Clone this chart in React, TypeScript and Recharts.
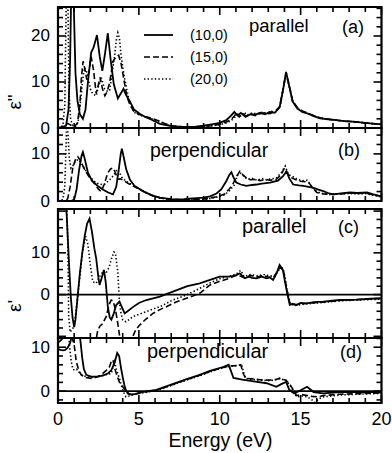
import React from 'react';
import { LineChart, Line, XAxis, YAxis, ReferenceArea, ReferenceLine } from 'recharts';

type Pt = [number, number];

// ---------- labels ----------
const seriesNames = ['(10,0)', '(15,0)', '(20,0)'];
const panelLetters = ['(a)', '(b)', '(c)', '(d)'];
const panelTitles = ['parallel', 'perpendicular', 'parallel', 'perpendicular'];
const energyTicks = [0, 1, 2, 3, 4, 5, 6, 7, 8, 9, 10, 11, 12, 13, 14, 15, 16, 17, 18, 19, 20];

// ---------- (a) eps'' parallel ----------
const a10: Pt[] = [[0,0],[0.3,0.2],[0.5,0.5],[0.65,4],[0.75,15],[0.82,30],[0.9,45],[0.98,26],[1.08,12],[1.2,6],[1.35,3],[1.54,2],[1.7,4],[1.85,10],[2.05,16.4],[2.2,17.5],[2.41,20.2],[2.58,15.5],[2.74,12.4],[2.9,16],[3.08,20.6],[3.25,15],[3.45,9.5],[3.7,6.4],[3.9,7.6],[4.05,8.5],[4.2,7.2],[4.43,5.9],[4.7,4],[5.05,3.1],[5.4,2.4],[5.67,2],[6.0,1.4],[6.3,0.9],[7,0.4],[7.5,0.3],[8,0.2],[8.5,0.3],[9,0.5],[9.5,0.8],[10,1.1],[10.4,1.7],[10.7,2.7],[10.9,3.5],[11.1,2.7],[11.3,3.3],[11.6,2.4],[11.9,3.0],[12.2,2.9],[12.5,3.3],[12.8,3.0],[13.1,3.5],[13.4,3.3],[13.7,4.5],[13.9,8],[14.1,12.2],[14.3,9],[14.5,5.8],[14.8,4.2],[15.1,3.5],[15.4,3.2],[15.8,2.6],[16.2,2.1],[16.7,1.9],[17.2,1.7],[17.7,1.5],[18.2,1.4],[18.7,1.2],[19.3,1.0],[20,0.8]];
const a15: Pt[] = [[0,0],[0.3,0.3],[0.6,1],[0.8,0.6],[1.0,0.3],[1.2,1],[1.35,5],[1.45,11],[1.55,14.5],[1.65,13],[1.78,10.5],[1.9,12],[2.05,15.5],[2.2,12.5],[2.36,7.5],[2.5,9.5],[2.6,11],[2.75,8.5],[2.9,7],[3.05,8],[3.2,10],[3.4,14.5],[3.6,15.5],[3.75,15.8],[3.9,14],[4.05,11],[4.25,7],[4.45,5],[4.7,3.6],[5.0,3.0],[5.4,2.5],[5.8,2.1],[6.2,1.6],[6.6,1.0],[7,0.5],[7.5,0.3],[8,0.2],[8.5,0.2],[9,0.3],[9.5,0.5],[10,0.8],[10.4,1.3],[10.7,1.8],[10.9,2.6],[11.05,3.3],[11.2,2.4],[11.4,3.2],[11.6,2.6],[11.9,3.0],[12.2,2.7],[12.5,3.1],[12.8,3.3],[13.1,3.1],[13.4,3.6],[13.7,4.6],[13.9,8.2],[14.1,12.0],[14.3,9.2],[14.5,6],[14.8,4.4],[15.1,3.7],[15.4,3.3],[15.8,2.7],[16.2,2.2],[16.7,1.9],[17.2,1.7],[17.7,1.5],[18.2,1.4],[18.7,1.2],[19.3,1.0],[20,0.8]];
const a20: Pt[] = [[0,0],[0.3,0.5],[0.42,5],[0.5,25],[0.55,45],[0.62,25],[0.68,8],[0.78,2],[0.9,0.5],[1.1,0.3],[1.25,1.5],[1.4,6],[1.55,11],[1.64,13.1],[1.75,12.5],[1.85,11],[2.0,8.5],[2.15,7.4],[2.36,7],[2.5,9],[2.67,11],[2.8,9.5],[2.88,8.5],[3.05,8],[3.19,8.1],[3.35,12],[3.5,15.7],[3.62,19.5],[3.7,20.7],[3.8,19.5],[3.9,15.8],[4.1,11],[4.4,5.9],[4.7,3.4],[5.0,2.9],[5.4,2.4],[5.8,2.0],[6.2,1.5],[6.6,0.9],[7,0.4],[7.5,0.2],[8,0.2],[8.5,0.2],[9,0.3],[9.5,0.5],[10,0.7],[10.4,1.1],[10.7,1.6],[10.9,2.2],[11.1,3.0],[11.3,2.6],[11.5,3.4],[11.7,2.8],[12.0,3.3],[12.3,3.0],[12.6,3.4],[12.9,3.2],[13.2,3.6],[13.5,3.5],[13.75,5],[13.95,9],[14.1,11.8],[14.3,8.8],[14.5,5.9],[14.8,4.3],[15.1,3.6],[15.4,3.2],[15.8,2.7],[16.2,2.2],[16.7,1.9],[17.2,1.7],[17.7,1.5],[18.2,1.4],[18.7,1.2],[19.3,1.0],[20,0.8]];

// ---------- (b) eps'' perpendicular ----------
const b10: Pt[] = [[0,0],[0.8,0],[1.0,0.3],[1.15,2.5],[1.3,6.5],[1.45,9.5],[1.54,10.4],[1.65,9],[1.85,6],[2.1,4.3],[2.46,3.2],[2.8,2.4],[3.1,1.8],[3.4,1.4],[3.6,3],[3.75,6.5],[3.88,10],[3.95,11.1],[4.05,9.5],[4.22,6.7],[4.45,4.5],[4.74,3.2],[5.25,2.1],[5.8,1.2],[6.3,0.7],[7,0.4],[7.6,0.3],[8.1,0.5],[8.6,0.6],[9,0.7],[9.4,1],[9.8,1.6],[10.1,2.5],[10.4,4.2],[10.6,5.6],[10.72,6.1],[10.85,5],[11.03,3.9],[11.3,3.5],[11.65,3.2],[12,3.4],[12.27,3.5],[12.6,3.7],[13.1,3.9],[13.6,4.3],[13.9,5.2],[14.13,6.3],[14.3,4.8],[14.54,3.5],[14.9,3.3],[15.16,3.2],[15.5,3],[15.8,2.8],[16.1,2.4],[16.4,2.1],[16.7,1.7],[17,1.4],[17.5,1.6],[18.05,1.8],[18.5,1.7],[19.1,1.8],[19.5,1.4],[20,1]];
const b15: Pt[] = [[0,0],[0.45,0],[0.6,0.5],[0.75,3],[0.92,7.2],[1.08,8.8],[1.23,9.4],[1.4,8.5],[1.6,7],[1.85,5.5],[2.1,4.3],[2.3,3.5],[2.5,2.5],[2.67,2],[2.85,3.5],[3.08,6],[3.25,6.8],[3.4,7],[3.55,6],[3.7,4.6],[3.85,4.7],[4.0,4.5],[4.3,3.8],[4.74,3],[5.25,2.1],[5.8,1.2],[6.3,0.7],[7,0.3],[8,0.3],[8.6,0.3],[9.2,0.5],[9.8,0.9],[10.3,1.5],[10.6,2.6],[10.8,3.5],[11.0,5],[11.24,6.3],[11.45,5.5],[11.65,4.9],[11.9,4.5],[12.2,4.6],[12.5,4.3],[12.8,4.6],[13.1,4.4],[13.5,4.6],[13.8,5.6],[14.0,7],[14.2,5.8],[14.4,5],[14.7,4.5],[15.0,4.2],[15.3,4.1],[15.5,3.9],[15.7,3],[16.0,1.8],[16.4,1.5],[17,1.4],[17.5,1.5],[18,1.7],[18.5,1.6],[19,1.7],[19.5,1.3],[20,1.0]];
const b20: Pt[] = [[0,0],[0.3,0.3],[0.42,3],[0.5,12],[0.56,20],[0.62,14],[0.7,9],[0.8,7],[0.92,7.5],[1.08,8.5],[1.25,8.8],[1.45,8],[1.7,6.5],[2.0,5],[2.3,4],[2.6,3.5],[2.9,3.6],[3.2,4.5],[3.45,5.5],[3.65,6.7],[3.8,6],[3.95,5],[4.2,4.2],[4.5,3.6],[4.9,2.8],[5.3,2],[5.8,1.2],[6.3,0.6],[7,0.3],[8,0.3],[8.6,0.3],[9.2,0.4],[9.8,0.8],[10.3,1.3],[10.6,2.2],[10.9,3.4],[11.1,5.5],[11.3,5.9],[11.5,5.2],[11.7,4.6],[12.0,4.8],[12.3,4.4],[12.6,4.8],[12.9,4.5],[13.2,4.7],[13.5,4.9],[13.8,6],[14.05,7.4],[14.25,5.6],[14.5,5.2],[14.8,4.6],[15.1,4.3],[15.4,4.4],[15.6,3.5],[15.9,2.2],[16.3,1.6],[16.8,1.4],[17.4,1.5],[18,1.6],[18.5,1.5],[19,1.6],[19.5,1.2],[20,0.9]];

// ---------- (c) eps' parallel ----------
const c10: Pt[] = [[0,24],[0.3,26],[0.5,22],[0.6,14],[0.7,6],[0.8,-1],[0.9,-5.5],[1.0,-7.8],[1.08,-6],[1.2,-1],[1.35,5],[1.5,10],[1.65,14],[1.8,17],[1.95,18.2],[2.1,15],[2.25,11],[2.36,8.7],[2.5,4],[2.57,2.3],[2.7,4],[2.84,5.9],[2.95,3],[3.08,-2.9],[3.2,-5.5],[3.3,-6],[3.45,-4.5],[3.6,-2.5],[3.8,-1.7],[3.95,-3],[4.12,-4.5],[4.3,-4],[4.63,-3],[5.0,-2],[5.46,-1.3],[6.3,-0.5],[7.1,0.7],[8,2],[8.76,2.7],[9.4,3.5],[10,4.3],[10.6,4.3],[11,4.6],[11.24,5.1],[11.55,3.9],[11.8,4.3],[12.0,4],[12.27,3.9],[12.6,4.3],[12.9,3.9],[13.1,4.1],[13.3,3.5],[13.5,5],[13.7,7.1],[13.9,5.9],[14.13,1.1],[14.33,-2.5],[14.5,-2.2],[14.75,-2.5],[15.0,-2.0],[15.4,-2.1],[15.8,-1.8],[16.4,-1.7],[17.4,-1.3],[18.5,-1.2],[19.3,-1.0],[20,-0.9]];
const c15: Pt[] = [[0,-12],[2.3,-12],[2.46,-8.5],[2.6,-7.5],[2.75,-7],[2.98,-5.3],[3.15,-2.5],[3.29,-1.3],[3.4,-1.5],[3.55,-3.5],[3.7,-7],[3.85,-11],[4.55,-11],[4.63,-10],[4.8,-8.5],[5.05,-7.3],[5.4,-6],[5.87,-4.5],[6.3,-3.6],[6.7,-2.9],[7.3,-1.8],[7.94,-0.9],[8.76,0.3],[9.4,2.3],[10,3.2],[10.6,3.9],[11,4.6],[11.3,4.4],[11.55,4],[11.9,4.6],[12.3,4.2],[12.7,4.6],[13.0,4.2],[13.3,4.1],[13.5,5.2],[13.75,6.6],[13.95,5.5],[14.15,1],[14.35,-2.3],[14.7,-2.4],[15.2,-2.2],[15.7,-2.0],[16.4,-1.8],[17.4,-1.4],[18.5,-1.2],[19.3,-1.0],[20,-0.9]];
const c20: Pt[] = [[0,22],[0.4,28],[0.5,30],[0.55,20],[0.6,13],[0.63,5],[0.66,-5],[0.75,-9],[1.0,-7.6],[1.2,-1.2],[1.5,9.8],[1.7,14],[1.85,12],[2.0,7],[2.15,3.1],[2.36,2.7],[2.57,4.3],[2.78,5.5],[2.95,5],[3.15,6.5],[3.3,8.5],[3.46,10.2],[3.55,9.9],[3.7,5.3],[3.8,-2],[3.9,-4.5],[4.0,-6.1],[4.2,-6.5],[4.4,-6],[4.63,-5.3],[5.0,-4.7],[5.46,-4.1],[6.3,-2.9],[7.1,-1.3],[7.94,-0.1],[8.76,1.5],[9.4,2.8],[10,3.8],[10.6,4.4],[11,4.9],[11.3,5.8],[11.5,4.3],[11.9,4.8],[12.3,4.5],[12.7,4.8],[13.1,4.5],[13.4,4.3],[13.6,5.5],[13.8,6.8],[13.95,5.8],[14.15,1.5],[14.35,-2.3],[14.7,-2.6],[15.2,-2.3],[15.7,-2.1],[16.4,-1.9],[17.4,-1.5],[18.5,-1.3],[20,-1.1]];

// ---------- (d) eps' perpendicular ----------
const d10: Pt[] = [[0,9.6],[0.15,9.4],[0.3,9.3],[0.45,9.4],[0.6,9.9],[0.75,11],[0.85,12.5],[0.9,13.5],[1.1,15],[1.3,14],[1.4,11],[1.5,7.5],[1.6,5],[1.75,3.7],[2.05,3.3],[2.46,3.3],[2.8,3.6],[3.08,4.0],[3.3,4.8],[3.5,6.5],[3.66,8.7],[3.78,8],[3.9,5.2],[4.0,3.2],[4.1,1.4],[4.2,0.2],[4.32,-0.6],[4.53,-0.8],[4.8,-0.6],[5.15,-0.2],[6.08,0.3],[7,1.5],[8,2.8],[8.76,3.7],[9.4,4.6],[10.2,5.5],[10.55,6.0],[10.7,4.5],[10.85,3],[11.4,2.6],[11.6,2.5],[12.3,2.1],[12.9,1.8],[13.5,1.0],[13.8,1.6],[14.1,2.1],[14.3,0.3],[14.6,-0.5],[15.0,0.2],[15.4,1],[15.8,-0.2],[16.4,-0.5],[17.4,-0.2],[18.5,-0.2],[20,-0.2]];
const d15: Pt[] = [[0,11],[0.3,12],[0.6,13],[0.85,12.5],[1.0,10.5],[1.13,6.7],[1.3,4.6],[1.44,3.7],[1.7,3.1],[2.05,2.9],[2.4,3.2],[2.67,3.7],[2.95,4.6],[3.19,5.6],[3.3,6.8],[3.4,7.1],[3.5,5.2],[3.65,3.5],[3.8,2],[4.0,1],[4.2,0],[4.4,-0.6],[4.6,-0.8],[4.9,-0.6],[5.2,-0.3],[6.08,0.2],[7,1.4],[8,2.7],[8.76,3.6],[9.4,4.5],[10.2,5.4],[10.6,5.7],[11.0,5.8],[11.3,6.0],[11.45,4],[11.6,2.9],[12.0,2.8],[12.5,2.6],[13.0,2.5],[13.4,2.6],[13.7,2.9],[14.1,2.5],[14.4,1.2],[14.75,-1.0],[15.1,-0.8],[15.4,-1.0],[15.7,-1.2],[16.1,-1.3],[16.4,-1.0],[17.4,-0.7],[18.5,-0.6],[20,-0.4]];
const d20: Pt[] = [[0,13],[0.4,14],[0.65,13.5],[0.72,10],[0.82,6.7],[0.92,5],[1.02,4.8],[1.15,5],[1.3,4.3],[1.5,3.6],[1.8,3.2],[2.2,3.1],[2.6,3.4],[3.0,3.8],[3.29,4.0],[3.4,5.5],[3.5,6.7],[3.6,5],[3.8,2.9],[4.0,0.2],[4.2,-1.3],[4.4,-1.1],[4.7,-0.7],[5.2,-0.4],[6.08,0.1],[7,1.3],[8,2.6],[8.76,3.5],[9.4,4.4],[10.2,5.3],[10.6,5.6],[11.0,5.8],[11.35,6.0],[11.5,4],[11.6,2.9],[12.0,2.7],[12.5,2.5],[13.0,2.4],[13.4,2.5],[13.7,2.9],[14.1,2.4],[14.4,1.0],[14.75,-1.3],[15.1,-1.1],[15.4,-1.3],[15.7,-2],[15.9,-2.6],[16.1,-1.8],[16.4,-1.3],[17.4,-0.9],[18.5,-0.7],[20,-0.5]];

// ---------- layout ----------
const W = 392;
const H = 453;
const PL = 58;
const PR = 381.5;
const FONT = '"Liberation Sans", Arial, Helvetica, sans-serif';

const dashes = ['0', '6 3', '1.4 2.2'];

type PanelCfg = {
  top: number; bottom: number; domain: [number, number];
  yTicks: number[]; yLabels: number[]; zero: boolean; xLabels: boolean;
  series: Pt[][];
};

const panels: PanelCfg[] = [
  { top: 7, bottom: 128, domain: [0, 26.3], yTicks: [0,2,4,6,8,10,12,14,16,18,20,22,24,26], yLabels: [0,10,20], zero: false, xLabels: false, series: [a10, a15, a20] },
  { top: 128, bottom: 201, domain: [0, 15.5], yTicks: [0,2,4,6,8,10,12,14], yLabels: [0,10], zero: false, xLabels: false, series: [b10, b15, b20] },
  { top: 209, bottom: 338, domain: [-10.4, 20.5], yTicks: [-10,-8,-6,-4,-2,0,2,4,6,8,10,12,14,16,18,20], yLabels: [0,10], zero: true, xLabels: false, series: [c10, c15, c20] },
  { top: 338, bottom: 403, domain: [-2.7, 12.1], yTicks: [-2,0,2,4,6,8,10,12], yLabels: [0,10], zero: true, xLabels: true, series: [d10, d15, d20] },
];

function Panel({ cfg }: { cfg: PanelCfg }) {
  const { top, bottom, domain, yTicks, yLabels, zero, xLabels, series } = cfg;
  const renderXTick = (props: any) => {
    const x = props.x;
    const v = props.payload.value;
    const major = v % 5 === 0;
    const len = major ? 8 : 5;
    return (
      <g key={'xt' + v}>
        <line x1={x} x2={x} y1={bottom} y2={bottom - len} stroke="#000" strokeWidth={1.6} />
        <line x1={x} x2={x} y1={top} y2={top + len} stroke="#000" strokeWidth={1.6} />
        {xLabels && major ? (
          <text x={x} y={419} textAnchor="middle" dominantBaseline="central" fontSize={18} fontFamily={FONT} fill="#000">{v}</text>
        ) : null}
      </g>
    );
  };
  const renderYTick = (props: any) => {
    const y = props.y;
    const v = props.payload.value;
    const major = v % 10 === 0;
    const len = major ? 8 : 5;
    return (
      <g key={'yt' + v}>
        <line x1={PL} x2={PL + len} y1={y} y2={y} stroke="#000" strokeWidth={1.6} />
        <line x1={PR} x2={PR - len} y1={y} y2={y} stroke="#000" strokeWidth={1.6} />
        {yLabels.includes(v) ? (
          <text x={50} y={y} textAnchor="end" dominantBaseline="central" fontSize={17} fontFamily={FONT} fill="#000">{v}</text>
        ) : null}
      </g>
    );
  };
  return (
    <div style={{ position: 'absolute', left: 0, top: 0 }}>
      <LineChart width={W} height={H} margin={{ top, bottom: H - bottom - 1, left: PL - 1, right: W - PR }}>
        <XAxis xAxisId="x" type="number" dataKey="x" domain={[0, 20]} ticks={energyTicks} interval={0} height={1}
          axisLine={false} tickLine={false} tick={renderXTick} allowDataOverflow />
        <YAxis yAxisId="y" type="number" domain={domain} ticks={yTicks} interval={0} width={1}
          axisLine={false} tickLine={false} tick={renderYTick} allowDataOverflow />
        {zero ? <ReferenceLine xAxisId="x" yAxisId="y" y={0} stroke="#000" strokeWidth={1.6} /> : null}
        {series.map((pts, i) => (
          <Line key={seriesNames[i]} xAxisId="x" yAxisId="y" name={seriesNames[i]}
            data={pts.map(([x, y]) => ({ x, y }))} dataKey="y" type="linear"
            stroke="#000" strokeWidth={i === 0 ? 1.8 : 1.6} strokeDasharray={dashes[i]}
            dot={false} activeDot={false} isAnimationActive={false} />
        ))}
        <ReferenceArea xAxisId="x" yAxisId="y" x1={0} x2={20} y1={domain[0]} y2={domain[1]}
          fill="none" fillOpacity={0} stroke="#000" strokeWidth={2.2} ifOverflow="visible" />
      </LineChart>
    </div>
  );
}

const titlePos = [
  { x: 249, y: 32, size: 18.5, lx: 342, ly: 33 },
  { x: 150, y: 157, size: 19.5, lx: 338, ly: 156 },
  { x: 242, y: 233, size: 20, lx: 338, ly: 233 },
  { x: 147, y: 358, size: 20, lx: 340, ly: 358 },
];
const legendY = [35, 57, 79];

export default function App() {
  return (
    <div style={{ position: 'absolute', left: 0, top: 0, width: W, height: H, background: '#fff', fontFamily: FONT }}>
      {panels.map((p, i) => <Panel key={i} cfg={p} />)}
      <svg width={W} height={H} style={{ position: 'absolute', left: 0, top: 0, pointerEvents: 'none' }}>
        {panelTitles.map((t, i) => (
          <g key={t + i}>
            <text x={titlePos[i].x} y={titlePos[i].y} fontSize={titlePos[i].size} fontFamily={FONT} fill="#000">{t}</text>
            <text x={titlePos[i].lx} y={titlePos[i].ly} fontSize={18} fontFamily={FONT} fill="#000">{panelLetters[i]}</text>
          </g>
        ))}
        {seriesNames.map((n, i) => (
          <g key={n}>
            <line x1={144} x2={173} y1={legendY[i]} y2={legendY[i]} stroke="#000" strokeWidth={i === 0 ? 1.8 : 1.6} strokeDasharray={dashes[i]} />
            <text x={190} y={legendY[i]} dominantBaseline="central" fontSize={14.5} fontFamily={FONT} fill="#000">{n}</text>
          </g>
        ))}
        <text x={14} y={102} transform="rotate(-90 14 102)" textAnchor="middle" dominantBaseline="central" fontSize={19} fontFamily={FONT} fill="#000">ε"</text>
        <text x={14} y={306} transform="rotate(-90 14 306)" textAnchor="middle" dominantBaseline="central" fontSize={19} fontFamily={FONT} fill="#000">ε'</text>
        <text x={220.5} y={440} textAnchor="middle" dominantBaseline="central" fontSize={19.5} fontFamily={FONT} fill="#000">Energy (eV)</text>
      </svg>
    </div>
  );
}
